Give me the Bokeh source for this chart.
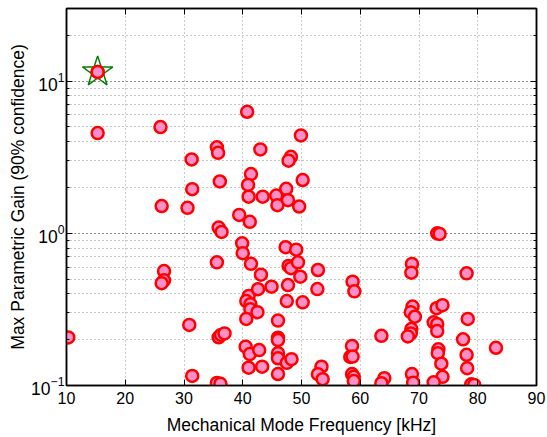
from bokeh.plotting import figure
from bokeh.models import (ColumnDataSource, LogAxis, LinearAxis, FixedTicker,
                          LogTickFormatter, Range1d, CustomJSTickFormatter)
from bokeh.embed import file_html
from bokeh.resources import INLINE

# Data
freq_khz = [15.3, 15.3, 26.0, 26.2, 26.6, 26.6, 26.2, 10.3, 30.6, 31.3,
            31.4, 30.9, 31.4, 35.6, 35.8, 36.1, 35.9, 36.4, 35.6, 35.9,
            36.3, 36.9, 35.6, 36.2, 40.75, 41.4, 40.9, 41.0, 39.4, 41.2,
            39.9, 40.0, 41.4, 41.0, 40.6, 41.3, 41.3, 42.5, 40.6, 40.5,
            41.2, 42.8, 41.0, 43.3, 43.0, 43.4, 43.1, 42.6, 44.9, 45.7,
            45.9, 46.0, 46.0, 46.0, 46.0, 46.0, 46.0, 47.4, 47.7, 48.2,
            47.8, 47.3, 47.8, 48.2, 47.7, 47.5, 47.5, 48.3, 49.9, 50.2,
            49.6, 49.1, 49.4, 49.8, 50.2, 52.8, 52.7, 53.4, 52.8, 53.6,
            58.7, 59.0, 58.6, 58.3, 58.7, 58.6, 58.9, 58.9, 63.6, 64.1,
            63.6, 68.8, 68.7, 68.9, 68.6, 69.3, 68.7, 68.6, 68.1, 68.8,
            69.0, 73.1, 73.5, 73.0, 74.0, 72.5, 73.1, 73.1, 73.3, 73.2,
            73.8, 74.0, 72.5, 78.1, 78.3, 77.5, 78.1, 78.2, 78.9, 79.4,
            83.1]
max_gain = [11.5, 4.56, 4.99, 1.51, 0.565, 0.491, 0.470, 0.207, 1.47, 3.06,
            1.95, 0.25, 0.1156, 3.67, 3.38, 2.19, 1.09, 1.02, 0.645, 0.2075,
            0.215, 0.22, 0.104, 0.1025, 6.29, 2.45, 2.08, 1.74, 1.32, 1.19,
            0.86, 0.74, 0.63, 0.387, 0.359, 0.342, 0.317, 0.303, 0.274, 0.18,
            0.161, 0.171, 0.131, 0.133, 3.56, 1.74, 0.535, 0.429, 0.446, 1.77,
            1.53, 0.267, 0.206, 0.199, 0.163, 0.151, 0.119, 1.96, 1.65, 3.18,
            3.0, 0.81, 0.61, 0.59, 0.457, 0.359, 0.141, 0.149, 4.40, 2.24,
            1.50, 0.78, 0.645, 0.519, 0.352, 0.574, 0.43, 0.133, 0.1186, 0.110,
            0.481, 0.416, 0.182, 0.154, 0.155, 0.119, 0.114, 0.107, 0.212, 0.1117,
            0.1035, 0.629, 0.551, 0.33, 0.303, 0.283, 0.235, 0.22, 0.21, 0.119,
            0.1044, 1.0, 0.99, 0.322, 0.337, 0.26, 0.253, 0.228, 0.173, 0.163,
            0.139, 0.114, 0.105, 0.546, 0.274, 0.201, 0.159, 0.13, 0.1019, 0.1009,
            0.177]
star_freq = [15.3]
star_gain = [11.5]

x_ticks = [10, 20, 30, 40, 50, 60, 70, 80, 90]
y_major = [0.1, 1, 10]
y_minor = [0.2, 0.3, 0.4, 0.5, 0.6, 0.7, 0.8, 0.9,
           2, 3, 4, 5, 6, 7, 8, 9, 20, 30]

FONT = "Liberation Sans"

p = figure(frame_width=470, frame_height=377, x_axis_type="linear",
           y_axis_type="log",
           x_range=Range1d(10, 90), y_range=Range1d(0.1, 30),
           output_backend="svg", toolbar_location=None,
           min_border_left=66, min_border_right=11, min_border_top=8,
           min_border_bottom=52)
p.background_fill_color = "white"
p.border_fill_color = "white"
p.outline_line_color = "black"
p.outline_line_width = 1.5

# Axes (ticks inside, MATLAB-like)
xa = p.xaxis[0]
xa.ticker = FixedTicker(ticks=x_ticks)
ya = p.yaxis[0]
ya.ticker = FixedTicker(ticks=y_major, minor_ticks=y_minor)
ya.formatter = LogTickFormatter()
for ax in (xa, ya):
    ax.major_tick_in = 6
    ax.major_tick_out = 0
    ax.minor_tick_in = 3
    ax.minor_tick_out = 0
    ax.axis_line_width = 1.5
    ax.major_label_text_font = FONT
    ax.major_label_text_color = "black"
    ax.axis_label_text_font = FONT
    ax.axis_label_text_font_size = "17.5px"
    ax.axis_label_text_font_style = "normal"
    ax.axis_label_text_color = "black"
xa.major_label_text_font_size = "16px"
ya.major_label_text_font_size = "17.5px"
xa.minor_tick_line_color = None
xa.axis_label = "Mechanical Mode Frequency [kHz]"
ya.axis_label = "Max Parametric Gain (90% confidence)"
xa.major_label_standoff = 6
ya.major_label_standoff = 2
xa.axis_label_standoff = 8
ya.axis_label_standoff = 0

top = LinearAxis(ticker=FixedTicker(ticks=x_ticks), major_tick_in=6,
                 major_tick_out=0, minor_tick_line_color=None,
                 formatter=CustomJSTickFormatter(code="return ''"),
                 major_label_standoff=0, axis_line_width=1.5)
right = LogAxis(ticker=FixedTicker(ticks=y_major, minor_ticks=y_minor),
                major_tick_in=6, major_tick_out=0, minor_tick_in=3,
                minor_tick_out=0, formatter=CustomJSTickFormatter(code="return ''"),
                major_label_standoff=0, axis_line_width=1.5)
p.add_layout(top, "above")
p.add_layout(right, "right")

# Grid
p.xgrid.ticker = FixedTicker(ticks=x_ticks)
p.xgrid.grid_line_color = "#9a9a9a"
p.xgrid.grid_line_dash = "1 3"
p.xgrid.grid_line_width = 1
p.ygrid.ticker = FixedTicker(ticks=y_major, minor_ticks=y_minor)
p.ygrid.grid_line_color = "#222222"
p.ygrid.grid_line_dash = "1 3"
p.ygrid.grid_line_width = 1
p.ygrid.minor_grid_line_color = "#8a8a8a"
p.ygrid.minor_grid_line_dash = "1 3"
p.ygrid.minor_grid_line_width = 1

src = ColumnDataSource(dict(x=freq_khz, y=max_gain))
p.scatter("x", "y", source=src, marker="circle", size=12,
          fill_color="#FF8FC6", line_color="#FF0000", line_width=2.5)

star_src = ColumnDataSource(dict(x=star_freq, y=star_gain))
p.scatter("x", "y", source=star_src, marker="star", size=32,
          fill_color=None, line_color="#008000", line_width=1.5)
p.scatter("x", "y", source=ColumnDataSource(dict(x=star_freq, y=star_gain)),
          marker="circle", size=12, fill_color="#FF8FC6",
          line_color="#FF0000", line_width=2.5)

open("out.html", "w").write(file_html(p, INLINE))
